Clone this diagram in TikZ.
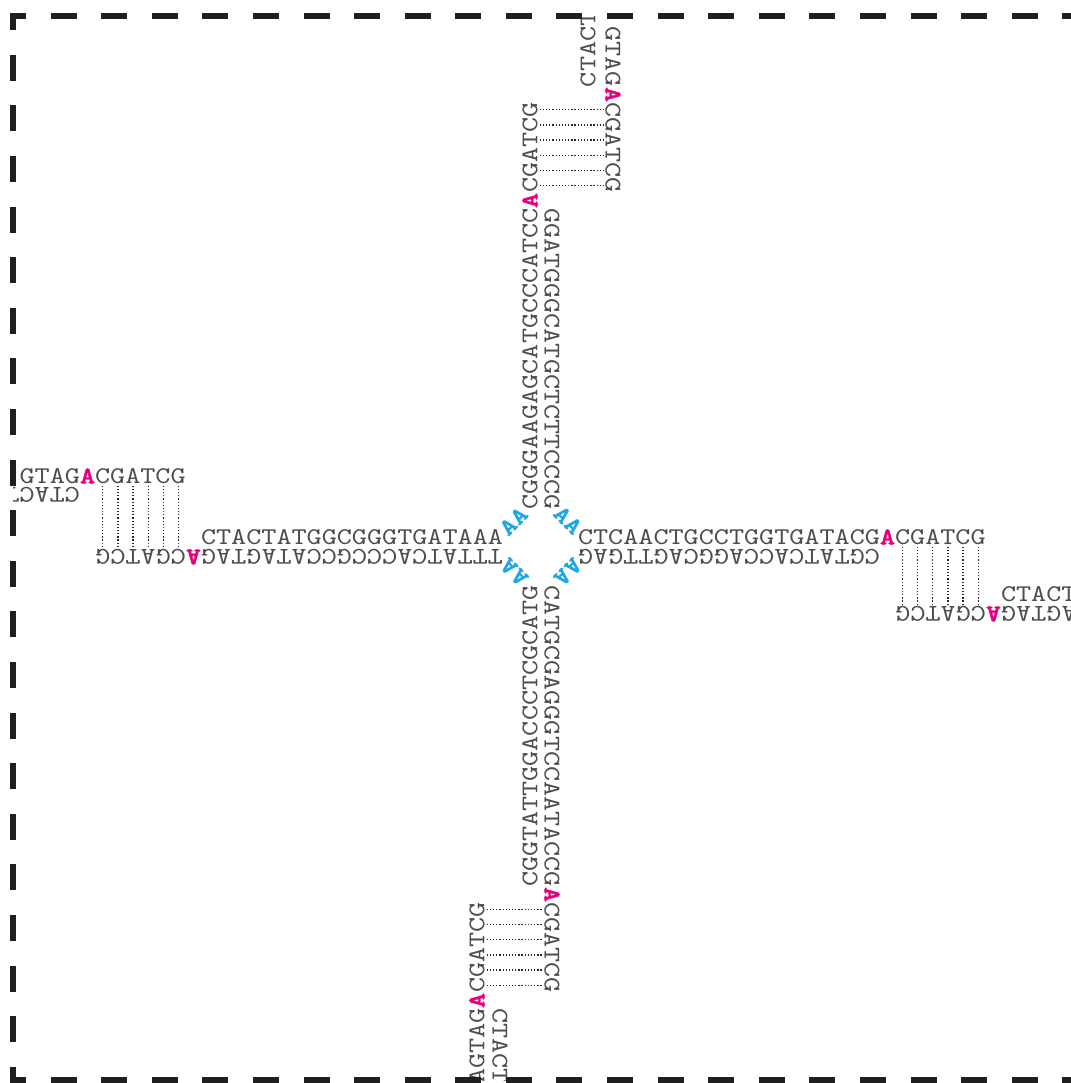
\documentclass[tikz,border=0pt]{standalone}
\usepackage{fontspec}
\newfontfamily\dnafont{lmmono10-regular.otf}[FakeStretch=1.2]
\newfontfamily\markfont{lmmonolt10-bold.otf}[FakeStretch=1.2, AutoFakeBold=1.6]
\definecolor{dnagray}{HTML}{4D4D4D}
\definecolor{dnapink}{HTML}{E6007E}
\definecolor{dnablue}{HTML}{1EA7E1}
\newcommand{\pA}{\textcolor{dnapink}{\markfont\bfseries A}}
\tikzset{
strand/.style={font={\dnafont\fontsize{13.64pt}{16pt}\selectfont}, text=dnagray, inner sep=0pt, outer sep=0pt},
hinge/.style={strand, font={\markfont\fontsize{13.64pt}{16pt}\selectfont\bfseries}, text=dnablue},
pair/.style={draw=black!85, line width=0.7pt, dash pattern=on 0.7pt off 1.1pt, shorten <=1.2pt, shorten >=1.2pt},
border/.style={draw=black!88, line width=0.12cm, dash pattern=on 0.52cm off 0.492cm},
}
\begin{document}
\begin{tikzpicture}[x=0.02cm, y=-0.02cm]
\useasboundingbox (0,0) rectangle (1071,1083);
\begin{scope}
\clip (13,16.3) rectangle (1071,1080);
% the tile: four arms
\node[strand] (Lt) at (352,537) {CTACTATGGCGGGTGATAAA};
\node[strand, rotate=180] (Lb) at (299.15,557) {TTTATCACCCGCCATAGTAG\pA CGATCG};
\node[strand] (Rt) at (781.85,537) {CTCAACTGCCTGGTGATACG\pA CGATCG};
\node[strand, rotate=180] (Rb) at (729,557) {CGTATCACCAGGCAGTTGAG};
\node[strand, rotate=90] (Tl) at (530,306.15) {CGGGAAGAGCATGCCCATCC\pA CGATCG};
\node[strand, rotate=-90] (Tr) at (552,359) {GGATGGGCATGCTCTTCCCG};
\node[strand, rotate=90] (Bl) at (530,736) {CGGTATTGGACCCTCGCATG};
\node[strand, rotate=-90] (Br) at (552,788.85) {CATGCGAGGGTCCAATACCG\pA CGATCG};
% hinges
\node[hinge, rotate=45] (h1) at (513.5,521) {AA};
\node[hinge, rotate=-45] (h2) at (568,520) {AA};
\node[hinge, rotate=135] (h3) at (514,572) {AA};
\node[hinge, rotate=-135] (h4) at (568,572) {AA};
% neighbour tiles
\node[strand] (nWt) at (102.65,476) {GTAG\pA CGATCG};
\node[strand, rotate=180] (nWb) at (42.2,495) {CTACT};
\node[strand] (nEt) at (1152,594) {CTACTATGGCGGGTGATAAA};
\node[strand, rotate=180] (nEb) at (1099.15,614) {TTTATCACCCGCCATAGTAG\pA CGATCG};
\node[strand, rotate=-90] (nNr) at (613,109.65) {GTAG\pA CGATCG};
\node[strand, rotate=90] (nNl) at (588,49.25) {CTACT};
\node[strand, rotate=90] (nSl) at (477,992.9) {AGTAG\pA CGATCG};
\node[strand, rotate=-90] (nSr) at (500,1045.75) {CTACT};
% sticky end pairs
\foreach \i in {0,...,5}{
  \pgfmathsetmacro\xa{102.85+15.1*\i}
  \pgfmathsetmacro\xb{902.65+15.1*\i}
  \pgfmathsetmacro\ya{185.35-15.1*\i}
  \pgfmathsetmacro\yb{909.65+15.1*\i}
  \draw[pair] (nWt.south -| \xa,0) -- (Lb.south -| \xa,0);
  \draw[pair] (Rt.south -| \xb,0) -- (nEb.south -| \xb,0);
  \draw[pair] (Tl.south |- 0,\ya) -- (nNr.south |- 0,\ya);
  \draw[pair] (nSl.south |- 0,\yb) -- (Br.south |- 0,\yb);
}
\end{scope}
% frame
\draw[border, dash phase=0.2cm] (10,16.3) -- (1071,16.3);
\draw[border, dash phase=0.2cm] (10,1080) -- (1071,1080);
\draw[border, dash phase=0.18cm] (13,13.3) -- (13,1083);
\end{tikzpicture}
\end{document}
